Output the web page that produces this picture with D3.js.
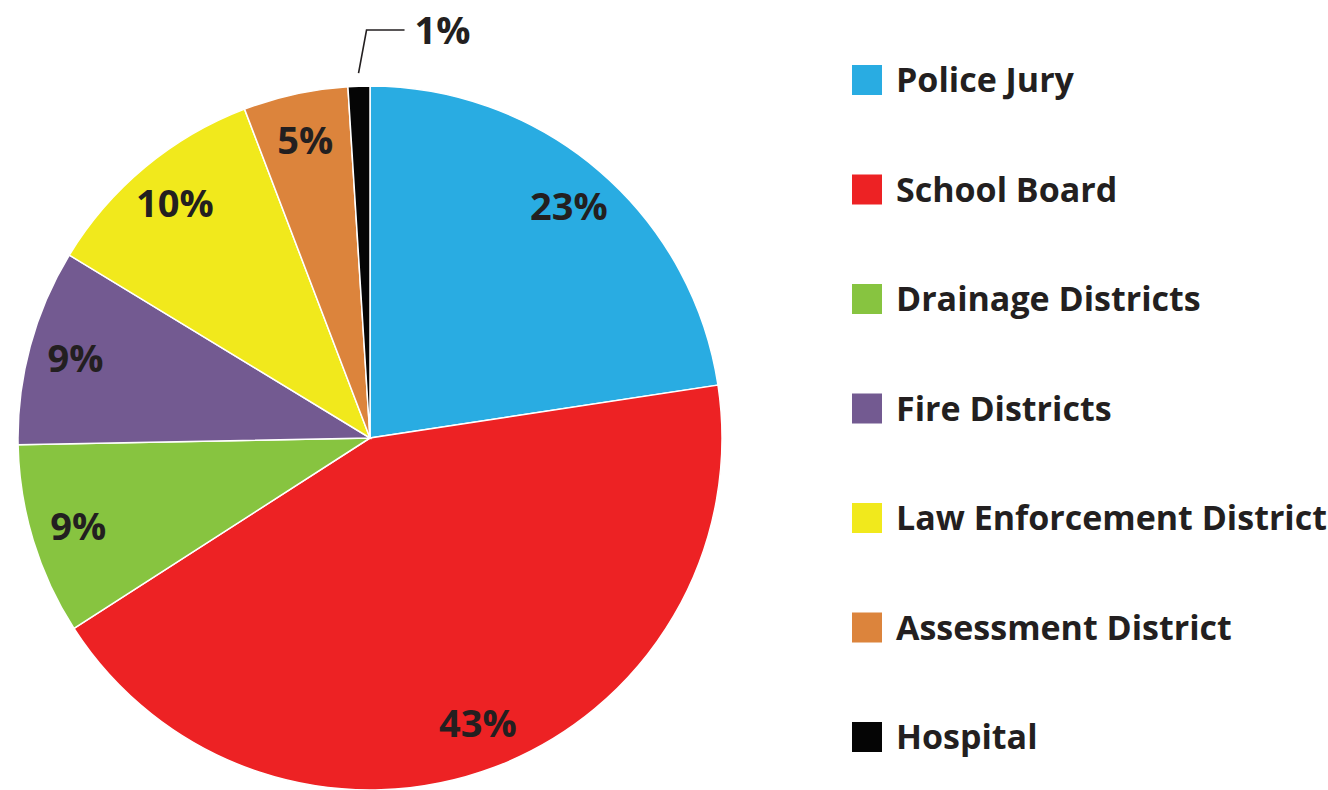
<!doctype html>
<html lang="en">
<head>
<meta charset="utf-8">
<title>Pie chart</title>
<style>
  body { margin: 0; background: #fff; }
  text { font-family: "Open Sans", Lato, sans-serif; font-weight: 700; fill: #231f20; }
</style>
</head>
<body>
<div id="chart"></div>
<script src="https://cdn.jsdelivr.net/npm/d3@7"></script>
<script>
  // data
  var categories = ["Police Jury", "School Board", "Drainage Districts", "Fire Districts",
    "Law Enforcement District", "Assessment District", "Hospital"];
  var shares = [22.6, 43.3, 8.8, 9.0, 10.5, 4.8, 1.0];
  var shareLabels = ["23%", "43%", "9%", "9%", "10%", "5%", "1%"];
  var colors = ["#29ace2", "#ed2224", "#87c440", "#735a91", "#f1e91c", "#dc843c", "#050505"];

  var width = 1328, height = 790;
  var cx = 370, cy = 438, radius = 352;

  var svg = d3.select("#chart").append("svg")
    .attr("width", width)
    .attr("height", height);

  var g = svg.append("g")
    .attr("transform", "translate(" + cx + "," + cy + ")");

  var data = categories.map(function(c, i) {
    return { name: c, value: shares[i], label: shareLabels[i], color: colors[i] };
  });

  var pie = d3.pie().sort(null).value(function(d) { return d.value; });
  var arc = d3.arc().innerRadius(0).outerRadius(radius);
  var labelArc = d3.arc().innerRadius(305).outerRadius(305);
  var arcs = pie(data);

  g.selectAll("path.slice")
    .data(arcs)
    .enter().append("path")
    .attr("class", "slice")
    .attr("d", arc)
    .style("fill", function(d) { return d.data.color; })
    .style("stroke", "#fff")
    .style("stroke-width", 1.5);

  // inside labels (all but the tiny slice)
  var inside = arcs.filter(function(d) { return d.data.value >= 3; });
  g.selectAll("text.pct")
    .data(inside)
    .enter().append("text")
    .attr("class", "pct")
    .attr("transform", function(d) { return "translate(" + labelArc.centroid(d) + ")"; })
    .attr("text-anchor", "middle")
    .attr("dy", "0.36em")
    .style("font-size", "38px")
    .text(function(d) { return d.data.label; });

  // outside label with leader line for the small slice
  var small = arcs.filter(function(d) { return d.data.value < 3; });
  small.forEach(function(d) {
    var a = (d.startAngle + d.endAngle) / 2;
    var p0 = [Math.sin(a) * (radius + 13), -Math.cos(a) * (radius + 13)];
    var p1 = [p0[0] + 8, -(radius + 56)];
    var p2 = [p1[0] + 38, p1[1]];
    g.append("path")
      .attr("d", d3.line()([p0, p1, p2]))
      .style("fill", "none")
      .style("stroke", "#231f20")
      .style("stroke-width", 1.6);
    g.append("text")
      .attr("x", p2[0] + 10)
      .attr("y", p2[1])
      .attr("dy", "0.36em")
      .style("font-size", "38px")
      .text(d.data.label);
  });

  // legend
  var legendY = d3.scalePoint().domain(categories).range([80, 737]);
  var legend = svg.selectAll("g.legend")
    .data(data)
    .enter().append("g")
    .attr("class", "legend")
    .attr("transform", function(d) { return "translate(852," + legendY(d.name) + ")"; });

  legend.append("rect")
    .attr("x", 0)
    .attr("y", -15)
    .attr("width", 30)
    .attr("height", 30)
    .style("fill", function(d) { return d.color; });

  legend.append("text")
    .attr("x", 44)
    .attr("dy", "0.36em")
    .style("font-size", "34px")
    .text(function(d) { return d.name; });
</script>
</body>
</html>
